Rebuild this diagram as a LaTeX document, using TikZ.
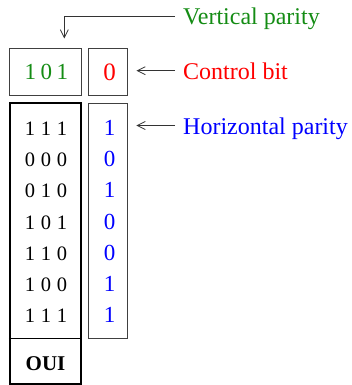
\documentclass[tikz,border=0pt]{standalone}
\usepackage{fontspec}
\setmainfont{Liberation Serif}
\usetikzlibrary{arrows.meta}
\definecolor{vgreen}{RGB}{20,140,20}
\newcommand{\dgt}[1]{\makebox[16pt]{#1}}
\newcommand{\trip}[3]{\dgt{#1}\dgt{#2}\dgt{#3}}
\begin{document}
\begin{tikzpicture}[x=1pt,y=-1pt,
  thinbox/.style={draw=black!75,line width=0.9pt,inner sep=0pt},
  thickbox/.style={draw=black,line width=2.4pt,inner sep=0pt},
  arr/.style={draw=black!80,line width=0.9pt,-{Straight Barb[length=8pt,width=8pt,line width=0.8pt]}},
  lab/.style={anchor=base west,inner sep=0pt,font=\fontsize{24}{26}\selectfont},
  bdig/.style={anchor=base,inner sep=0pt,font=\fontsize{20.5}{22}\selectfont},
  cdig/.style={anchor=base,inner sep=0pt,font=\fontsize{23}{24}\selectfont,text=blue}]
\useasboundingbox (0,0) rectangle (351,385);
% boxes
\node[thinbox,minimum width=71.5pt,minimum height=46.8pt] (vpbox) at (45.5,71.6) {};
\node[thinbox,minimum width=39pt,minimum height=46.8pt] (cbox) at (107.8,71.6) {};
\node[thinbox,minimum width=39pt,minimum height=235pt] (hpbox) at (107.8,220.5) {};
\node[thickbox,minimum width=71pt,minimum height=281pt] (data) at (45.5,243.5) {};
\draw[line width=1pt] (data.west |- 0,338) -- (data.east |- 0,338);
% top row
\node[anchor=base,inner sep=0pt,font=\fontsize{23}{24}\selectfont,text=vgreen] (vpbits) at (46.3,80) {\trip{1}{0}{1}};
\node[anchor=base,inner sep=0pt,font=\fontsize{25}{26}\selectfont,text=red] (cbit) at (109.5,80.5) {0};
% data rows
\node[bdig] (r1) at (46,135.5) {\trip{1}{1}{1}};
\node[bdig] (r2) at (46,166.7) {\trip{0}{0}{0}};
\node[bdig] (r3) at (46,197.9) {\trip{0}{1}{0}};
\node[bdig] (r4) at (46,229.1) {\trip{1}{0}{1}};
\node[bdig] (r5) at (46,260.3) {\trip{1}{1}{0}};
\node[bdig] (r6) at (46,291.5) {\trip{1}{0}{0}};
\node[bdig] (r7) at (46,322.7) {\trip{1}{1}{1}};
\node[cdig] (h1) at (109.5,135.5) {1};
\node[cdig] (h2) at (109.5,166.7) {0};
\node[cdig] (h3) at (109.5,197.9) {1};
\node[cdig] (h4) at (109.5,229.1) {0};
\node[cdig] (h5) at (109.5,260.3) {0};
\node[cdig] (h6) at (109.5,291.5) {1};
\node[cdig] (h7) at (109.5,322.7) {1};
\node[anchor=base,inner sep=0pt,font=\fontsize{21}{22}\selectfont\bfseries] (oui) at (45.5,370) {OUI};
% labels
\node[lab,text=vgreen] (lv) at (183,25) {Vertical parity};
\node[lab,text=red] (lc) at (183,80) {Control bit};
\node[lab,text=blue] (lh) at (183,135) {Horizontal parity};
% connectors
\coordinate (vstart) at (175,16.7);
\coordinate (vend) at (64.3,38.5);
\coordinate (cstart) at (175,70.7);
\coordinate (hstart) at (175,125.5);
\draw[arr] (vstart) -| (vend);
\draw[arr,shorten >=8.7pt] (cstart) -- (cstart -| cbox.east);
\draw[arr,shorten >=8.7pt] (hstart) -- (hstart -| hpbox.east);
\end{tikzpicture}
\end{document}
